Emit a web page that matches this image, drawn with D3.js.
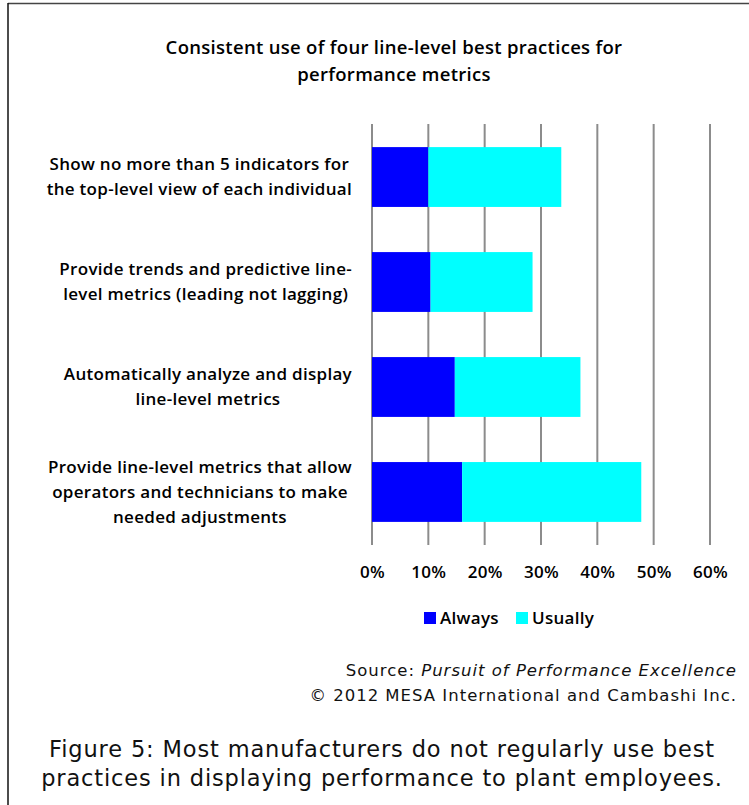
<!DOCTYPE html>
<html>
<head>
<meta charset="utf-8">
<script src="https://cdn.jsdelivr.net/npm/d3@7"></script>
<style>
  body { margin: 0; background: #fff; }
  text { font-family: "Open Sans", "Noto Sans", sans-serif; }
  .lbl { font-weight: 600; font-size: 17px; letter-spacing: 0.3px; fill: #000; }
  .note { font-family: "DejaVu Sans", Verdana, sans-serif; fill: #111; }
</style>
</head>
<body>
<div id="chart"></div>
<script>
var svgWidth = 749;
var svgHeight = 805;

// chart values
var categories = ["q1", "q2", "q3", "q4"];
var categoryLines = [
  ["Show no more than 5 indicators for", "the top-level view of each individual"],
  ["Provide trends and predictive line-", "level metrics (leading not lagging)"],
  ["Automatically analyze and display", "line-level metrics"],
  ["Provide line-level metrics that allow", "operators and technicians to make", "needed adjustments"]
];
var always = [0.100, 0.104, 0.147, 0.160];
var usually = [0.236, 0.181, 0.223, 0.318];
var seriesNames = ["Always", "Usually"];
var seriesColors = ["#0000ff", "#00ffff"];
var xTicks = [0, 0.1, 0.2, 0.3, 0.4, 0.5, 0.6];

var svg = d3.select("#chart")
  .append("svg")
  .attr("width", svgWidth)
  .attr("height", svgHeight);

// frame (top and left edges only)
svg.append("line").attr("x1", 8).attr("x2", svgWidth).attr("y1", 3.5).attr("y2", 3.5)
  .attr("stroke", "#444").attr("stroke-width", 1.5);
svg.append("line").attr("x1", 8).attr("x2", 8).attr("y1", 3).attr("y2", svgHeight)
  .attr("stroke", "#111").attr("stroke-width", 1.5);

// title
var title = svg.append("text")
  .attr("class", "lbl")
  .attr("text-anchor", "middle")
  .style("font-size", "18.5px");
title.append("tspan").attr("x", 394).attr("y", 54).text("Consistent use of four line-level best practices for");
title.append("tspan").attr("x", 394).attr("y", 81).text("performance metrics");

var x = d3.scaleLinear().domain([0, 0.6]).range([372, 710]);
var y = d3.scaleBand().domain(categories).range([124, 545]).paddingInner(0.43).paddingOuter(0.22);

// gridlines
svg.append("g")
  .selectAll("line")
  .data(xTicks)
  .enter()
  .append("line")
  .attr("x1", d => x(d)).attr("x2", d => x(d))
  .attr("y1", 124).attr("y2", 545)
  .attr("stroke", "#8c8c8c")
  .attr("stroke-width", 2);

// x axis labels
var xAxis = d3.axisBottom(x).tickValues(xTicks).tickFormat(d3.format(".0%")).tickSize(0).tickPadding(0);
var xAxisG = svg.append("g").attr("transform", "translate(0, 578)").call(xAxis);
xAxisG.select(".domain").remove();
xAxisG.selectAll("text").attr("class", "lbl").attr("fill", "#000").attr("dy", null);

// stacked bars
var stackData = categories.map((c, i) => ({ cat: c, Always: always[i], Usually: usually[i] }));
var stack = d3.stack().keys(seriesNames)(stackData);

svg.append("g")
  .selectAll("g")
  .data(stack)
  .enter()
  .append("g")
  .attr("fill", (d, i) => seriesColors[i])
  .selectAll("rect")
  .data(d => d)
  .enter()
  .append("rect")
  .attr("x", d => x(d[0]))
  .attr("width", d => x(d[1]) - x(d[0]))
  .attr("y", d => y(d.data.cat))
  .attr("height", y.bandwidth());

// category labels: centered block, right edge at 352
var labelRight = 352;
var lineGap = 25;
categories.forEach(function(c, i) {
  var lines = categoryLines[i];
  var cy = y(c) + y.bandwidth() / 2;
  var t = svg.append("text").attr("class", "lbl").attr("text-anchor", "middle");
  var spans = lines.map(function(s, j) {
    return t.append("tspan")
      .attr("y", cy + (j - (lines.length - 1) / 2) * lineGap)
      .attr("dy", "0.35em")
      .text(s);
  });
  var maxW = d3.max(spans, s => s.node().getComputedTextLength());
  spans.forEach(s => s.attr("x", labelRight - maxW / 2));
});

// legend
var legend = svg.append("g").attr("transform", "translate(424, 612)");
var lx = [0, 92];
seriesNames.forEach(function(name, i) {
  legend.append("rect").attr("x", lx[i]).attr("y", 0).attr("width", 12).attr("height", 12)
    .attr("fill", seriesColors[i]);
  legend.append("text").attr("class", "lbl").attr("x", lx[i] + 16).attr("y", 6).attr("dy", "0.35em")
    .text(name);
});

// source notes
var src = svg.append("text").attr("class", "note").attr("text-anchor", "end")
  .attr("x", 737).attr("y", 676).style("font-size", "16.5px").style("letter-spacing", "1px");
src.append("tspan").text("Source: ");
src.append("tspan").style("font-style", "italic").text("Pursuit of Performance Excellence");
svg.append("text").attr("class", "note").attr("text-anchor", "end")
  .attr("x", 737).attr("y", 701).style("font-size", "16.5px").style("letter-spacing", "1px")
  .text("\u00a9 2012 MESA International and Cambashi Inc.");

// caption
var cap = svg.append("text").attr("class", "note").attr("text-anchor", "middle")
  .style("font-size", "22.5px").style("letter-spacing", "0.85px");
cap.append("tspan").attr("x", 382).attr("y", 757).text("Figure 5: Most manufacturers do not regularly use best");
cap.append("tspan").attr("x", 382).attr("y", 786).text("practices in displaying performance to plant employees.");
</script>
</body>
</html>
